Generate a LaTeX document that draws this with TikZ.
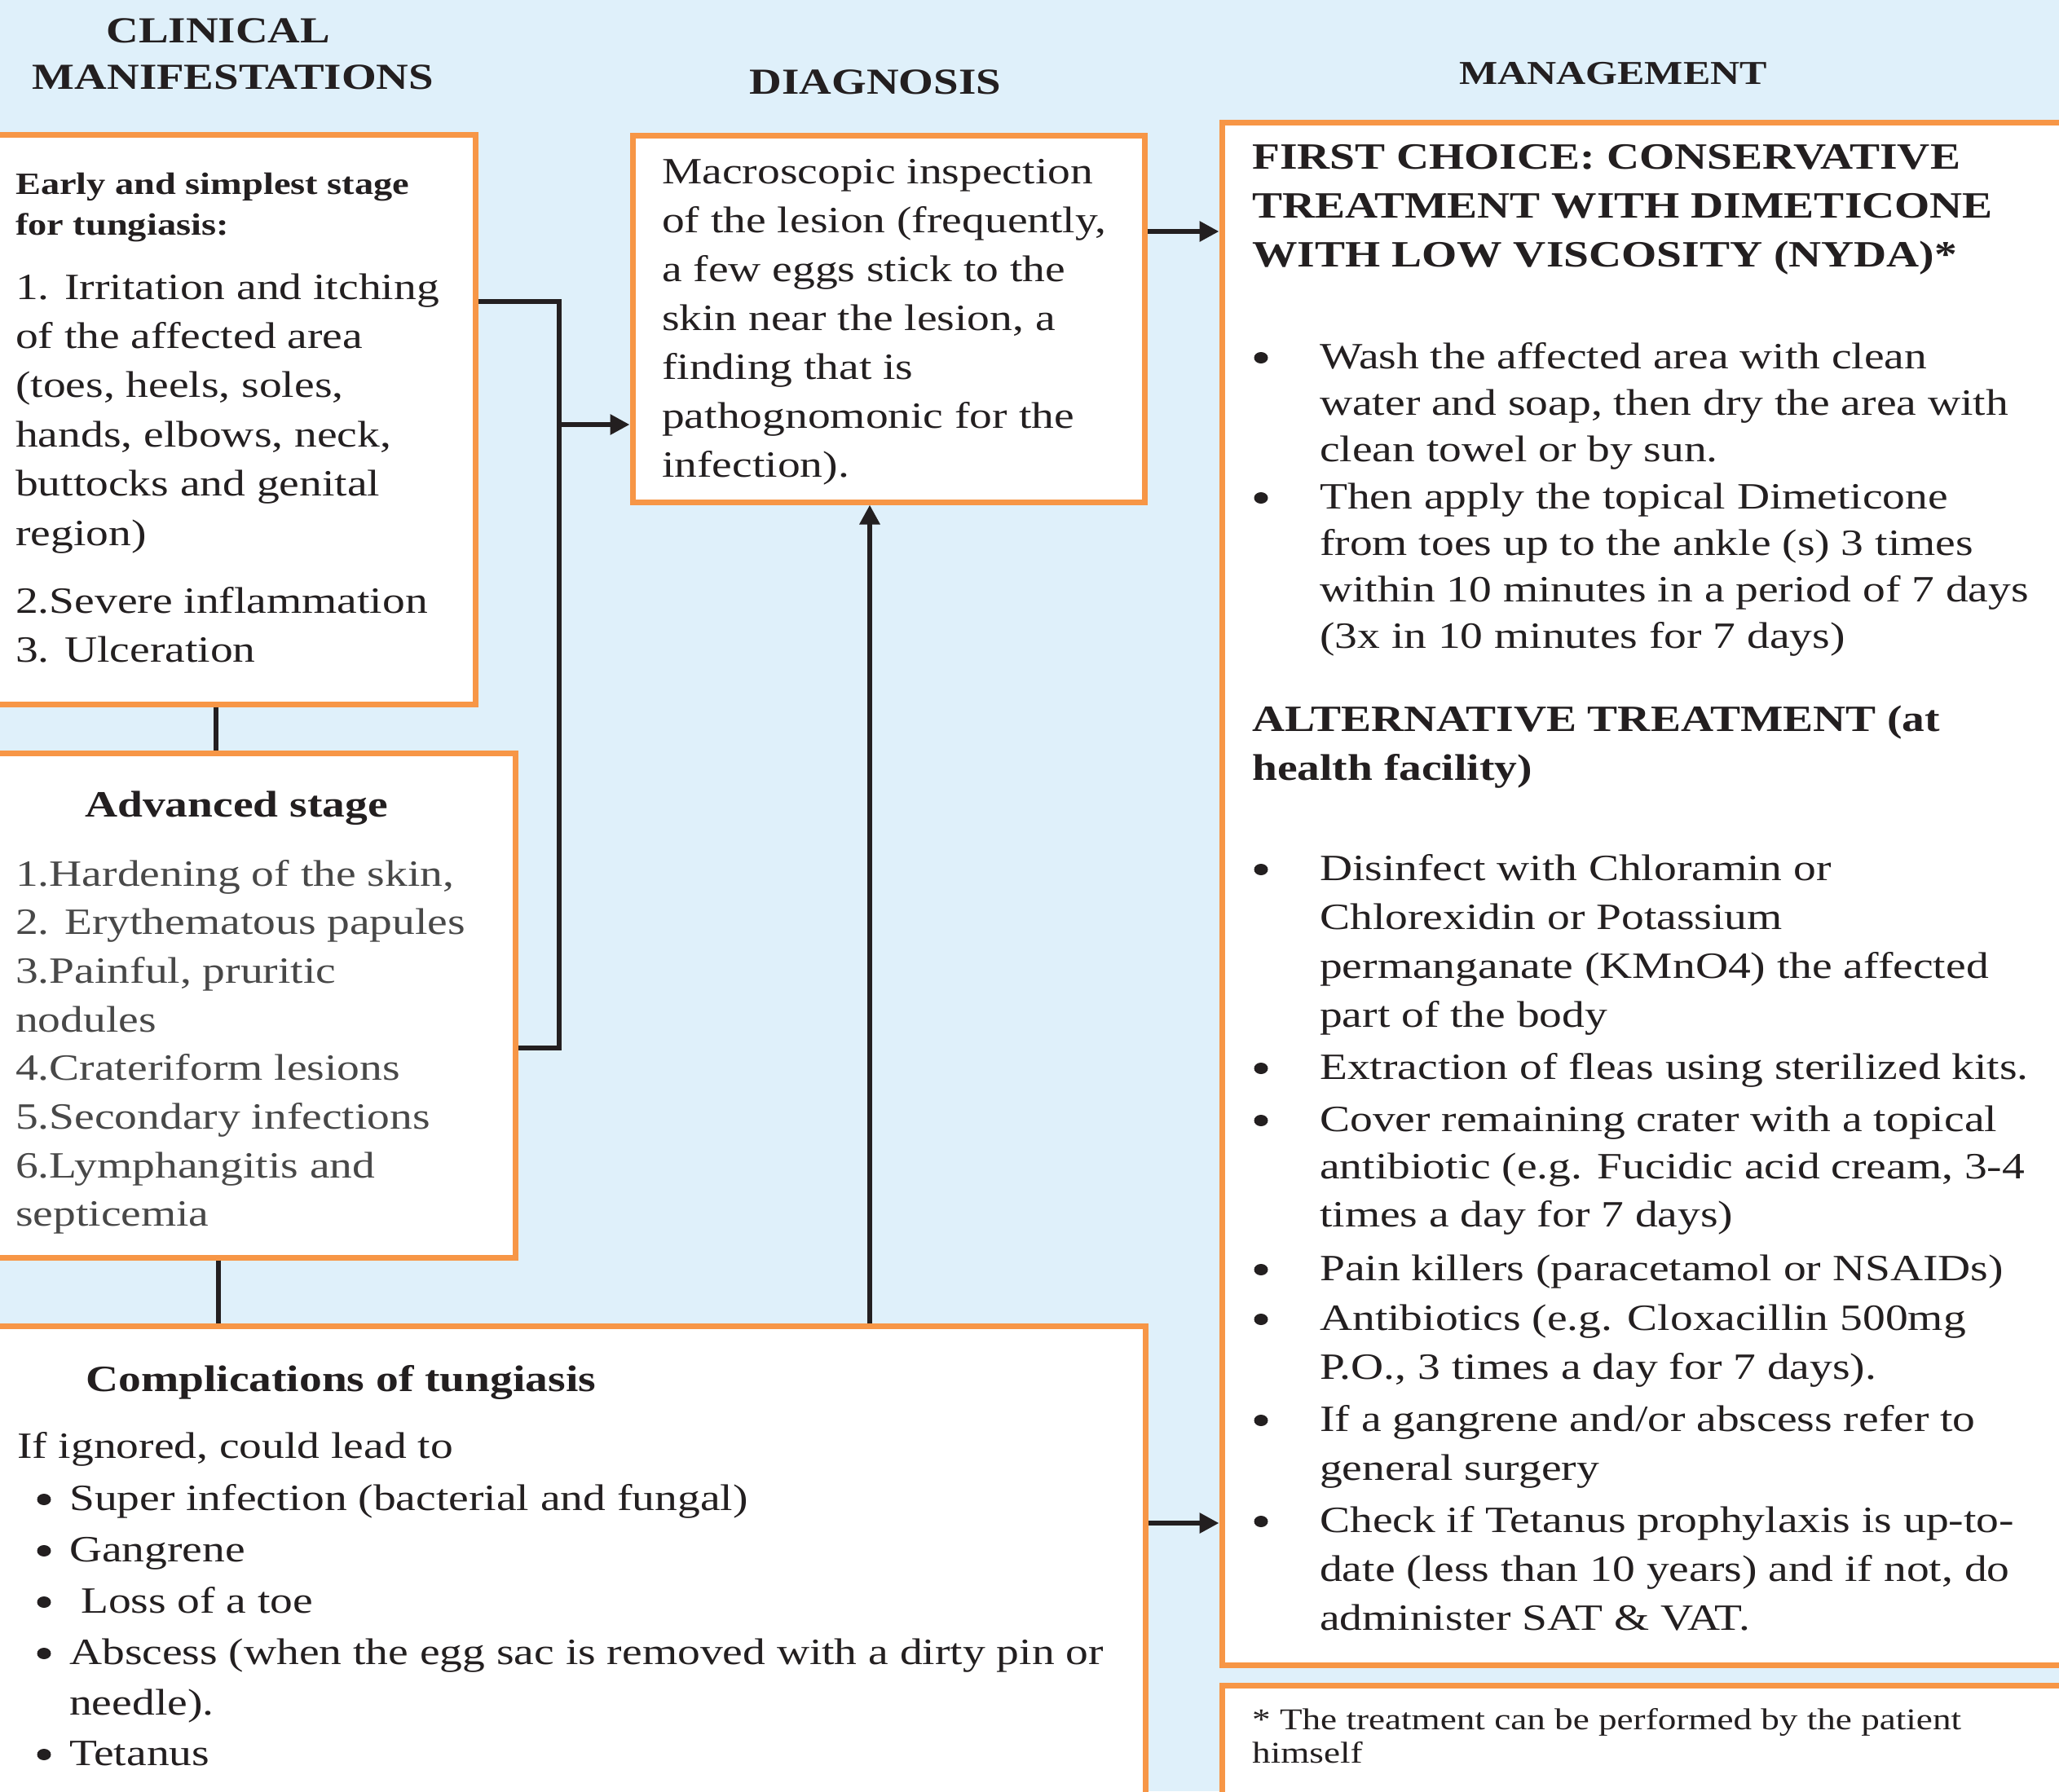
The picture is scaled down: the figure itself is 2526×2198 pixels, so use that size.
\documentclass[tikz,border=0pt]{standalone}
\usepackage{fontspec}
\setmainfont[FakeStretch=1.22]{Liberation Serif}
\usetikzlibrary{arrows.meta,shapes.geometric}

\definecolor{bgblue}{RGB}{223,240,250}
\definecolor{boxorange}{RGB}{247,150,70}
\definecolor{ink}{RGB}{35,31,32}
\definecolor{softink}{RGB}{72,72,72}

% several text lines, one node each: prefix, x, first baseline, line skip, style, lines
\newcommand\textlines[6]{%
  \foreach \lineitem [count=\i from 0] in {#6}{%
    \node[#5] (#1\i) at (#2,{#3+\i*#4}) {\lineitem};}}
% a round bullet centred at x, sitting on the x-height of the given baseline
\newcommand\bulletat[3]{\node[dot] (#1) at (#2,{#3-13}) {};}

\tikzset{
  box/.style={draw=boxorange, line width=7pt, fill=white, inner sep=0pt, outer sep=3.5pt},
  body/.style={anchor=base west, inner sep=0pt, text=ink, font=\fontsize{45.5}{55}\selectfont},
  bodybold/.style={body, font=\bfseries\fontsize{45.5}{55}\selectfont},
  grayitem/.style={body, text=softink},
  smallhead/.style={body, font=\bfseries\fontsize{38}{46}\selectfont},
  foot/.style={body, font=\fontsize{37}{44}\selectfont},
  colhead/.style={anchor=base, inner sep=0pt, text=ink, font=\bfseries\fontsize{45}{55}\selectfont},
  dot/.style={ellipse, fill=ink, inner sep=0pt, minimum width=17pt, minimum height=14pt},
  link/.style={line width=6pt, draw=ink},
  arrow/.style={link, -{Triangle[length=24pt,width=24pt]}},
}

\begin{document}
\begin{tikzpicture}[x=1pt, y=-1pt]
\useasboundingbox (0,0) rectangle (2526,2198);
\fill[bgblue] (0,0) rectangle (2526,2198);
\clip (0,0) rectangle (2526,2198);

% column headings
\node[colhead] (h1a) at (268,52) {CLINICAL};
\node[colhead] (h1b) at (286,109) {MANIFESTATIONS};
\node[colhead] (h2) at (1074,115) {DIAGNOSIS};
\node[colhead, font=\bfseries\fontsize{41}{50}\selectfont] (h3) at (1979,103) {MANAGEMENT};

% boxes
\node[box, minimum width=603pt, minimum height=699pt] (early) at (281.5,514.5) {};
\node[box, minimum width=628pt, minimum height=450pt] (diag) at (1090,391) {};
\node[box, minimum width=1061pt, minimum height=1893pt] (manage) at (2029.5,1096.5) {};
\node[box, minimum width=1061pt, minimum height=192pt] (note) at (2029.5,2164) {};
\node[box, minimum width=652pt, minimum height=619pt] (adv) at (306,1233.5) {};
\node[box, minimum width=1425pt, minimum height=633pt] (comp) at (692.5,1943.5) {};

% connector routing
\coordinate (rowtop) at (0,370);
\coordinate (rowbot) at (0,1286);
\coordinate (rowin) at (0,521);
\coordinate (rowmA) at (0,284);
\coordinate (rowmB) at (0,1869);
\coordinate (brk) at (686,0);
\coordinate (colA) at (265,0);
\coordinate (colB) at (268,0);
\coordinate (colC) at (1067,0);

\draw[link] (early.south -| colA) -- (adv.north -| colA);
\draw[link] (adv.south -| colB) -- (comp.north -| colB);
\draw[link] (early.east |- rowtop) -- (brk |- rowtop) -- (brk |- rowbot) -- (adv.east |- rowbot);
\draw[arrow] (brk |- rowin) -- (diag.west |- rowin);
\draw[arrow] (diag.east |- rowmA) -- (manage.west |- rowmA);
\draw[arrow] (comp.north -| colC) -- (diag.south -| colC);
\draw[arrow] (comp.east |- rowmB) -- (manage.west |- rowmB);

% early stage
\textlines{ea}{19}{238}{50}{smallhead}{Early and simplest stage, for tungiasis:}
\textlines{eb}{19}{367}{60.4}{body}{1. Irritation and itching, of the affected area,
  {(toes, heels, soles,}, {hands, elbows, neck,}, buttocks and genital, region)}
\textlines{ec}{19}{752}{60}{body}{2.Severe inflammation, 3. Ulceration}

% diagnosis
\textlines{da}{812}{225}{60}{body}{Macroscopic inspection, {of the lesion (frequently,},
  a few eggs stick to the, {skin near the lesion, a}, finding that is,
  pathognomonic for the, infection).}

% advanced stage
\node[bodybold] (advhead) at (104,1002) {Advanced stage};
\textlines{ad}{19}{1087}{59.7}{grayitem}{{1.Hardening of the skin,}, 2. Erythematous papules,
  {3.Painful, pruritic}, nodules, 4.Crateriform lesions, 5.Secondary infections,
  6.Lymphangitis and, septicemia}

% complications
\node[bodybold] (comphead) at (105,1707) {Complications of tungiasis};
\node[body] (compintro) at (21,1789) {If ignored, could lead to};
\bulletat{cb1}{54}{1853}
\bulletat{cb2}{54}{1916}
\bulletat{cb3}{54}{1979}
\bulletat{cb4}{54}{2042}
\bulletat{cb5}{54}{2166}
\node[body] (ci1) at (85,1853) {Super infection (bacterial and fungal)};
\node[body] (ci2) at (85,1916) {Gangrene};
\node[body] (ci3) at (99,1979) {Loss of a toe};
\textlines{ci4}{85}{2042}{62}{body}{Abscess (when the egg sac is removed with a dirty pin or, needle).}
\node[body] (ci5) at (85,2166) {Tetanus};

% management: first choice
\textlines{fa}{1536}{207}{60}{bodybold}{FIRST CHOICE: CONSERVATIVE, TREATMENT WITH DIMETICONE,
  WITH LOW VISCOSITY (NYDA)*}
\bulletat{fb1}{1547}{452}
\textlines{fi}{1619}{452}{57}{body}{Wash the affected area with clean,
  {water and soap, then dry the area with}, clean towel or by sun.}
\bulletat{fb2}{1547}{624}
\textlines{fj}{1619}{624}{57}{body}{Then apply the topical Dimeticone,
  from toes up to the ankle (s) 3 times, within 10 minutes in a period of 7 days,
  (3x in 10 minutes for 7 days)}

% management: alternative
\textlines{aa}{1536}{897}{60}{bodybold}{ALTERNATIVE TREATMENT (at, health facility)}
\bulletat{ab1}{1547}{1080}
\textlines{ai}{1619}{1080}{60}{body}{Disinfect with Chloramin or, Chlorexidin or Potassium,
  permanganate (KMnO4) the affected, part of the body}
\bulletat{ab2}{1547}{1324}
\node[body] (aj) at (1619,1324) {Extraction of fleas using sterilized kits.};
\bulletat{ab3}{1547}{1388}
\textlines{ak}{1619}{1388}{58.5}{body}{Cover remaining crater with a topical,
  {antibiotic (e.g. Fucidic acid cream, 3-4}, times a day for 7 days)}
\bulletat{ab4}{1547}{1571}
\node[body] (al) at (1619,1571) {Pain killers (paracetamol or NSAIDs)};
\bulletat{ab5}{1547}{1632}
\textlines{am}{1619}{1632}{60}{body}{Antibiotics (e.g. Cloxacillin 500mg,
  {P.O., 3 times a day for 7 days).}}
\bulletat{ab6}{1547}{1756}
\textlines{an}{1619}{1756}{60}{body}{If a gangrene and/or abscess refer to, general surgery}
\bulletat{ab7}{1547}{1880}
\textlines{ao}{1619}{1880}{60}{body}{Check if Tetanus prophylaxis is up-to-,
  {date (less than 10 years) and if not, do}, administer SAT \& VAT.}

% footnote
\textlines{nt}{1536}{2122}{41}{foot}{* The treatment can be performed by the patient, himself}
\end{tikzpicture}
\end{document}
